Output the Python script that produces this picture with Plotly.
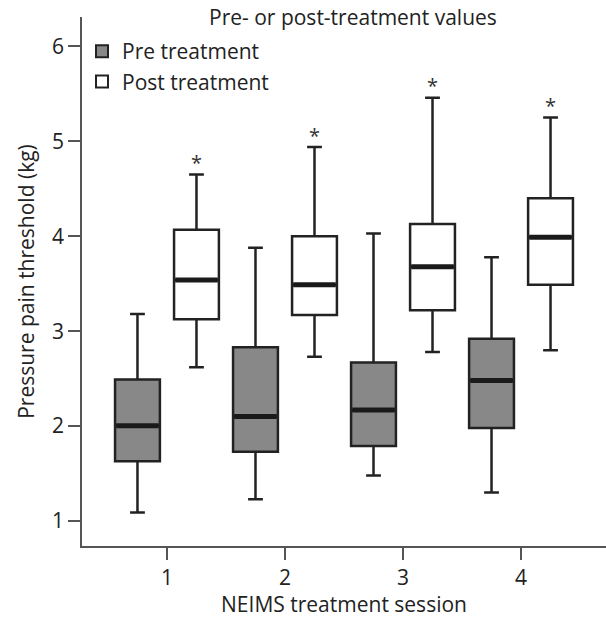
import plotly.graph_objects as go

sessions = [1, 2, 3, 4]
pre_low = [1.09, 1.23, 1.48, 1.30]
pre_q1 = [1.63, 1.73, 1.79, 1.98]
pre_med = [2.005, 2.10, 2.17, 2.48]
pre_q3 = [2.49, 2.83, 2.67, 2.92]
pre_high = [3.18, 3.88, 4.03, 3.78]

post_low = [2.62, 2.73, 2.78, 2.80]
post_q1 = [3.125, 3.17, 3.22, 3.49]
post_med = [3.54, 3.49, 3.68, 3.99]
post_q3 = [4.07, 4.00, 4.13, 4.40]
post_high = [4.65, 4.94, 5.46, 5.25]
post_sig = ["*", "*", "*", "*"]

OFF = 0.25
W = 0.38
FONT = "Open Sans"
LINE = "#222222"

fig = go.Figure()

groups = [
    ("Pre treatment", -OFF, "#888888", pre_low, pre_q1, pre_med, pre_q3, pre_high),
    ("Post treatment", OFF, "#ffffff", post_low, post_q1, post_med, post_q3, post_high),
]
for name, off, fill, lo, q1, med, q3, hi in groups:
    xs = [s + off for s in sessions]
    fig.add_trace(go.Box(
        name=name, x=xs, q1=q1, median=med, q3=q3,
        lowerfence=lo, upperfence=hi, width=W,
        fillcolor=fill, line=dict(color=LINE, width=2.5),
        whiskerwidth=0.33, boxpoints=False, hoverinfo="skip",
    ))

for name, off, fill, lo, q1, med, q3, hi in groups:
    mx, my = [], []
    for s, m in zip(sessions, med):
        mx += [s + off - W / 2 + 0.01, s + off + W / 2 - 0.01, None]
        my += [m, m, None]
    fig.add_trace(go.Scatter(x=mx, y=my, mode="lines",
                             line=dict(color="#1a1a1a", width=5),
                             showlegend=False, hoverinfo="skip"))

fig.add_trace(go.Scatter(
    x=[s + OFF for s in sessions], y=[h + 0.1 for h in post_high],
    mode="text", text=post_sig, textposition="middle center",
    textfont=dict(family=FONT, size=20, color="#333333"),
    showlegend=False, hoverinfo="skip"))

fig.add_annotation(text="Pre- or post-treatment values", xref="paper", yref="paper",
                   x=(353 - 82) / 524, y=1.0, xanchor="center", yanchor="middle",
                   showarrow=False, font=dict(family=FONT, size=21, color="#222222"))

fig.update_layout(
    width=606, height=618,
    margin=dict(l=82, r=0, t=17, b=72),
    paper_bgcolor="white", plot_bgcolor="white",
    boxmode="overlay",
    font=dict(family=FONT, size=21, color="#222222"),
    legend=dict(x=(82 - 82) / 524, y=(546 - 31) / 529, xanchor="left", yanchor="top",
                bgcolor="rgba(0,0,0,0)", font=dict(family=FONT, size=21),
                itemsizing="constant", tracegroupgap=0, itemwidth=30),
    xaxis=dict(range=[0.28, 4.72], tickvals=sessions, ticktext=[str(s) for s in sessions],
               showline=True, linecolor="#555555", linewidth=1.5,
               ticks="outside", ticklen=12, tickwidth=1.5, tickcolor="#555555",
               showgrid=False, zeroline=False, tickfont=dict(size=21),
               title=dict(text="NEIMS treatment session", font=dict(size=21), standoff=4)),
    yaxis=dict(range=[0.737, 6.31], tickvals=[1, 2, 3, 4, 5, 6],
               showline=True, linecolor="#555555", linewidth=1.5,
               ticks="outside", ticklen=12, tickwidth=1.5, tickcolor="#555555",
               showgrid=False, zeroline=False, tickfont=dict(size=21),
               title=dict(text="Pressure pain threshold (kg)", font=dict(size=21), standoff=12)),
)

fig.write_html("out.html")
